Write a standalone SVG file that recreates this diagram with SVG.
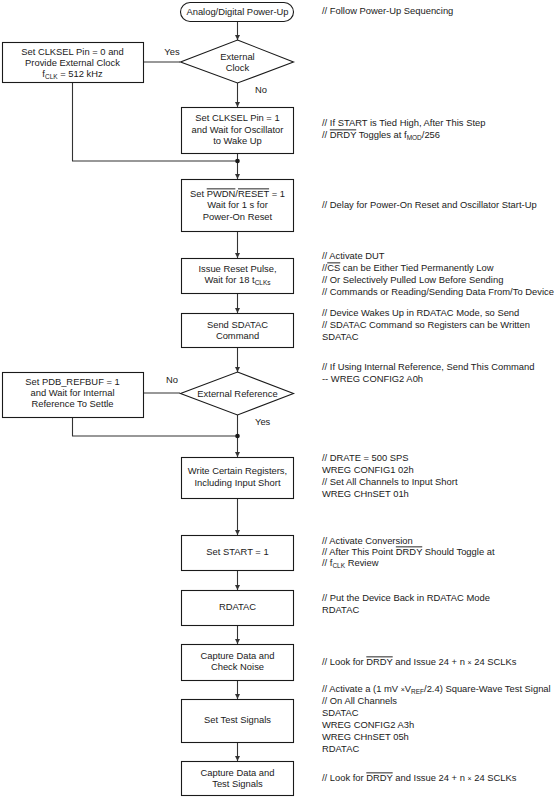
<svg xmlns="http://www.w3.org/2000/svg" width="557" height="797" viewBox="0 0 557 797">
<style>
text{font-family:"Liberation Sans",Arial,sans-serif;font-size:9.4px;fill:#1a1a1a}
.c{text-anchor:middle}
.box{fill:#fff;stroke:#1a1a1a;stroke-width:1.1}
.ln{fill:none;stroke:#333;stroke-width:1.1}
.ov{text-decoration:overline}
.sub{font-size:6.5px}
</style>
<defs>
<marker id="ah" viewBox="0 0 8 8" refX="8" refY="4" markerWidth="5" markerHeight="6" markerUnits="userSpaceOnUse" orient="auto"><path d="M0,0 L8,4 L0,8 Z" fill="#333"/></marker>
</defs>
<g id="connectors">
<path class="ln" d="M237.5,21 V40" marker-end="url(#ah)"/>
<path class="ln" d="M237.5,83 V107" marker-end="url(#ah)"/>
<path class="ln" d="M180,62 H143"/>
<path class="ln" d="M72.5,82 V161 H237.5"/>
<path class="ln" d="M237.5,153 V179" marker-end="url(#ah)"/>
<circle cx="237.5" cy="161" r="2.3" fill="#1a1a1a"/>
<path class="ln" d="M237.5,231 V258" marker-end="url(#ah)"/>
<path class="ln" d="M237.5,293 V313" marker-end="url(#ah)"/>
<path class="ln" d="M237.5,347 V372" marker-end="url(#ah)"/>
<path class="ln" d="M180,393 H143"/>
<path class="ln" d="M72.5,417 V436 H237.5"/>
<path class="ln" d="M237.5,415 V457" marker-end="url(#ah)"/>
<circle cx="237.5" cy="436" r="2.3" fill="#1a1a1a"/>
<path class="ln" d="M237.5,498 V535" marker-end="url(#ah)"/>
<path class="ln" d="M237.5,570 V590" marker-end="url(#ah)"/>
<path class="ln" d="M237.5,625 V644" marker-end="url(#ah)"/>
<path class="ln" d="M237.5,680 V699" marker-end="url(#ah)"/>
<path class="ln" d="M237.5,742 V761" marker-end="url(#ah)"/>
<text x="172" y="55.4" class="c">Yes</text>
<text x="255" y="93.4">No</text>
<text x="172" y="383.4" class="c">No</text>
<text x="255" y="425.4">Yes</text>
</g>
<g id="start">
<rect class="box" x="180.5" y="2.5" width="113" height="19" rx="9.5"/>
<text x="237.5" y="15.4" class="c">Analog/Digital Power-Up</text>
</g>
<g id="extclock">
<path class="box" d="M237.5,40 L293.5,62 L237.5,83 L180.5,62 Z"/>
<text x="237.5" y="60.4" class="c">External</text>
<text x="237.5" y="71.4" class="c">Clock</text>
</g>
<g id="clksel0">
<rect class="box" x="2.5" y="42.5" width="141" height="40"/>
<text x="72.5" y="55.4" class="c">Set CLKSEL Pin = 0 and</text>
<text x="72.5" y="66.4" class="c">Provide External Clock</text>
<text x="72.5" y="77.4" class="c">f<tspan class="sub" dy="2">CLK</tspan><tspan dy="-2"> = 512 kHz</tspan></text>
</g>
<g id="clksel1">
<rect class="box" x="181.5" y="107.5" width="112" height="46"/>
<text x="237.5" y="121.4" class="c">Set CLKSEL Pin = 1</text>
<text x="237.5" y="133.4" class="c">and Wait for Oscillator</text>
<text x="237.5" y="144.4" class="c">to Wake Up</text>
</g>
<g id="pwdn">
<rect class="box" x="181.5" y="179.5" width="112" height="52"/>
<text x="237.5" y="197.4" class="c">Set <tspan class="ov">PWDN</tspan>/<tspan class="ov">RESET</tspan> = 1</text>
<text x="237.5" y="208.4" class="c">Wait for 1 s for</text>
<text x="237.5" y="220.4" class="c">Power-On Reset</text>
</g>
<g id="reset">
<rect class="box" x="181.5" y="258.5" width="112" height="35"/>
<text x="237.5" y="272.4" class="c">Issue Reset Pulse,</text>
<text x="237.5" y="283.4" class="c">Wait for 18 t<tspan class="sub" dy="2">CLKs</tspan></text>
</g>
<g id="sdatac">
<rect class="box" x="181.5" y="313.5" width="112" height="34"/>
<text x="237.5" y="328.4" class="c">Send SDATAC</text>
<text x="237.5" y="339.4" class="c">Command</text>
</g>
<g id="extref">
<path class="box" d="M237.5,372 L293.5,393.5 L237.5,415 L180.5,393.5 Z"/>
<text x="237.5" y="396.8" class="c">External Reference</text>
</g>
<g id="refbuf">
<rect class="box" x="2.5" y="372.5" width="141" height="45"/>
<text x="72.5" y="385.4" class="c">Set PDB_REFBUF = 1</text>
<text x="72.5" y="396.4" class="c">and Wait for Internal</text>
<text x="72.5" y="407.4" class="c">Reference To Settle</text>
</g>
<g id="writeregs">
<rect class="box" x="181.5" y="457.5" width="112" height="41"/>
<text x="237.5" y="474.4" class="c">Write Certain Registers,</text>
<text x="237.5" y="486.4" class="c">Including Input Short</text>
</g>
<g id="setstart">
<rect class="box" x="181.5" y="535.5" width="112" height="35"/>
<text x="237.5" y="555.4" class="c">Set START = 1</text>
</g>
<g id="rdatac">
<rect class="box" x="181.5" y="590.5" width="112" height="35"/>
<text x="237.5" y="610.4" class="c">RDATAC</text>
</g>
<g id="capture1">
<rect class="box" x="181.5" y="644.5" width="112" height="36"/>
<text x="237.5" y="659.4" class="c">Capture Data and</text>
<text x="237.5" y="670.4" class="c">Check Noise</text>
</g>
<g id="testsig">
<rect class="box" x="181.5" y="699.5" width="112" height="43"/>
<text x="237.5" y="723.4" class="c">Set Test Signals</text>
</g>
<g id="capture2">
<rect class="box" x="181.5" y="761.5" width="112" height="34"/>
<text x="237.5" y="776.4" class="c">Capture Data and</text>
<text x="237.5" y="787.4" class="c">Test Signals</text>
</g>
<g id="comments">
<text x="322" y="14.4">// Follow Power-Up Sequencing</text>
<text x="322" y="126.4">// If START is Tied High, After This Step</text>
<text x="322" y="138.4">// <tspan class="ov">DRDY</tspan> Toggles at f<tspan class="sub" dy="2">MOD</tspan><tspan dy="-2">/256</tspan></text>
<text x="322" y="208.4">// Delay for Power-On Reset and Oscillator Start-Up</text>
<text x="322" y="259.4">// Activate DUT</text>
<text x="322" y="271.4">//<tspan class="ov">CS</tspan> can be Either Tied Permanently Low</text>
<text x="322" y="283.4">// Or Selectively Pulled Low Before Sending</text>
<text x="322" y="295.4">// Commands or Reading/Sending Data From/To Device</text>
<text x="322" y="316.4">// Device Wakes Up in RDATAC Mode, so Send</text>
<text x="322" y="328.4">// SDATAC Command so Registers can be Written</text>
<text x="322" y="340.4">SDATAC</text>
<text x="322" y="370.4">// If Using Internal Reference, Send This Command</text>
<text x="322" y="382.4">-- WREG CONFIG2 A0h</text>
<text x="322" y="461.4">// DRATE = 500 SPS</text>
<text x="322" y="473.4">WREG CONFIG1 02h</text>
<text x="322" y="485.4">// Set All Channels to Input Short</text>
<text x="322" y="497.4">WREG CHnSET 01h</text>
<text x="322" y="544.4">// Activate Conversion</text>
<text x="322" y="555.4">// After This Point <tspan class="ov">DRDY</tspan> Should Toggle at</text>
<text x="322" y="566.4">// f<tspan class="sub" dy="2">CLK</tspan><tspan dy="-2"> Review</tspan></text>
<text x="322" y="601.4">// Put the Device Back in RDATAC Mode</text>
<text x="322" y="613.4">RDATAC</text>
<text x="322" y="665.4">// Look for <tspan class="ov">DRDY</tspan> and Issue 24 + n <tspan font-size="7">×</tspan> 24 SCLKs</text>
<text x="322" y="692.4">// Activate a (1 mV <tspan font-size="7">×</tspan>V<tspan class="sub" dy="2">REF</tspan><tspan dy="-2">/2.4) Square-Wave Test Signal</tspan></text>
<text x="322" y="704.4">// On All Channels</text>
<text x="322" y="716.4">SDATAC</text>
<text x="322" y="728.4">WREG CONFIG2 A3h</text>
<text x="322" y="740.4">WREG CHnSET 05h</text>
<text x="322" y="752.4">RDATAC</text>
<text x="322" y="781.4">// Look for <tspan class="ov">DRDY</tspan> and Issue 24 + n <tspan font-size="7">×</tspan> 24 SCLKs</text>
</g>
</svg>
